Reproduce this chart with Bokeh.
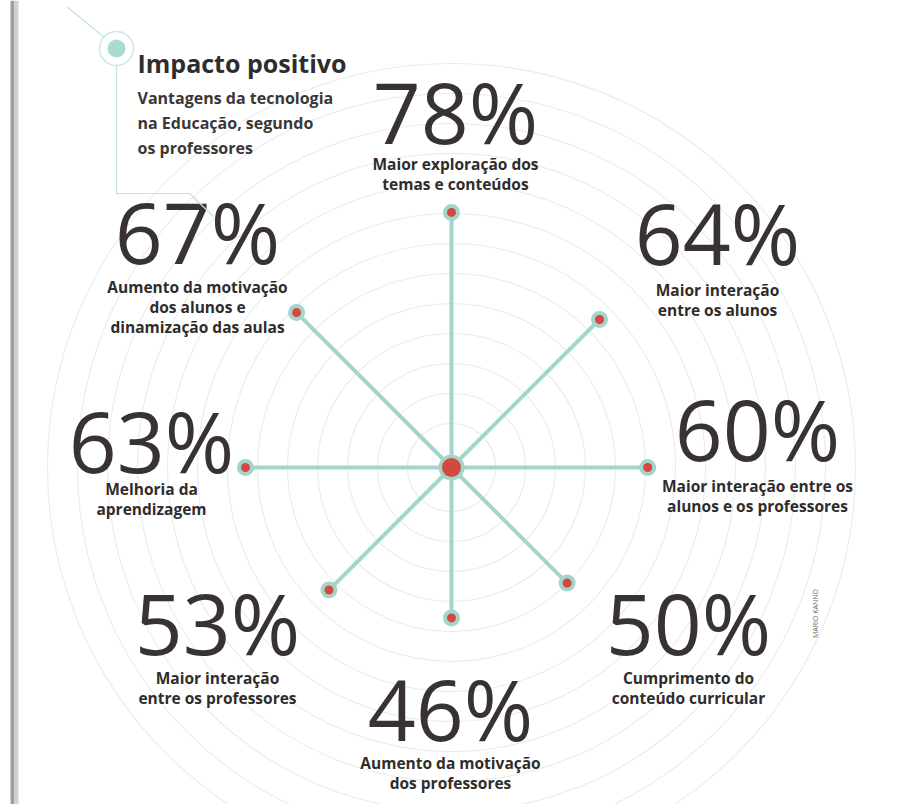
import numpy as np
from bokeh.plotting import figure
from bokeh.models import Range1d
from bokeh.core.properties import value
from bokeh.embed import file_html
from bokeh.resources import INLINE

# ---------------- data ----------------
values = [78, 64, 60, 50, 46, 53, 63, 67]
directions_deg = [0, 45, 90, 135, 180, 225, 270, 315]   # clockwise from top
descriptions = [
    ["Maior exploração dos", "temas e conteúdos"],
    ["Maior interação", "entre os alunos"],
    ["Maior interação entre os", "alunos e os professores"],
    ["Cumprimento do", "conteúdo curricular"],
    ["Aumento da motivação", "dos professores"],
    ["Maior interação", "entre os professores"],
    ["Melhoria da", "aprendizagem"],
    ["Aumento da motivação", "dos alunos e", "dinamização das aulas"],
]
title = "Impacto positivo"
subtitle = ["Vantagens da tecnologia", "na Educação, segundo", "os professores"]
credit = "MARIO KANNO"

# ---------------- layout ----------------
W, H = 914, 804
CX, CY = 451, 467
PX_PER_PCT = 3.27
# (number centre x, number centre y, description first-line centre y)
label_layout = [
    (455, 111, 163),
    (717, 232, 289),
    (757, 428, 485),
    (688, 622, 677),
    (450, 708, 762),
    (217, 622, 677),
    (151, 440, 488),
    (197, 231, 286),
]
DESC_LINE = 20

TEAL = "#a3d5ca"
RED = "#d2493f"
DARK = "#383332"
TXT = "#2f2c2b"
FONT = value("Open Sans")

p = figure(width=W, height=H, x_range=Range1d(0, W), y_range=Range1d(H, 0),
           output_backend="svg", toolbar_location=None, min_border=0,
           background_fill_color="white", border_fill_color="white")
p.axis.visible = False
p.grid.visible = False
p.outline_line_color = None

# background rings
ring_r = np.arange(44, 430, 30)
p.circle(x=[CX] * len(ring_r), y=[CY] * len(ring_r), radius=ring_r,
         fill_color=None, line_color="#ebebeb", line_width=1.1)

# page gutter strip
p.quad(left=[10], right=[14], bottom=[H], top=[0], fill_color="#a19e99", line_color=None)
p.quad(left=[14], right=[18], bottom=[H], top=[0], fill_color="#d3d1cd", line_color=None)

# spokes
theta = np.radians(directions_deg)
lengths = np.array(values) * PX_PER_PCT
ex = CX + np.sin(theta) * lengths
ey = CY - np.cos(theta) * lengths
p.segment(x0=[CX] * len(values), y0=[CY] * len(values), x1=ex, y1=ey,
          line_color=TEAL, line_width=4)
p.scatter(ex, ey, size=17, fill_color=TEAL, line_color=None)
p.scatter(ex, ey, size=9, fill_color=RED, line_color=None)
p.scatter([CX], [CY], size=26, fill_color=TEAL, line_color=None)
p.scatter([CX], [CY], size=19, fill_color=RED, line_color=None)

# numbers and descriptions
for v, desc, (nx, ny, dy) in zip(values, descriptions, label_layout):
    p.text(x=[nx], y=[ny], text=[f"{v}%"], text_font=FONT, text_font_size="84px",
           text_color=DARK, text_align="center", text_baseline="middle")
    for i, line in enumerate(desc):
        p.text(x=[nx], y=[dy + i * DESC_LINE], text=[line], text_font=FONT,
               text_font_size="15.5px", text_font_style="bold", text_color=TXT,
               text_align="center", text_baseline="middle")

# title block decoration
p.line(x=[66, 104], y=[6, 37], line_color="#c4e2dc", line_width=1.2)
p.line(x=[116, 116, 189, 213], y=[65, 193, 193, 216], line_color="#c4e2dc", line_width=1.2)
p.scatter([116], [48], size=34, fill_color="white", line_color="#cfe7e2", line_width=1.5)
p.scatter([116], [48], size=18, fill_color="#a9dbd1", line_color=None)

p.text(x=[137], y=[62], text=[title], text_font=FONT, text_font_size="25px",
       text_font_style="bold", text_color=TXT, text_baseline="middle")
for i, line in enumerate(subtitle):
    p.text(x=[137], y=[97 + i * 25], text=[line], text_font=FONT, text_font_size="16px",
           text_font_style="bold", text_color="#3a3736", text_baseline="middle")

p.text(x=[815], y=[613], text=[credit], text_font=FONT, text_font_size="7px",
       text_color="#666666", text_align="center", text_baseline="middle", angle=np.pi / 2)

open("out.html", "w").write(file_html(p, INLINE))
